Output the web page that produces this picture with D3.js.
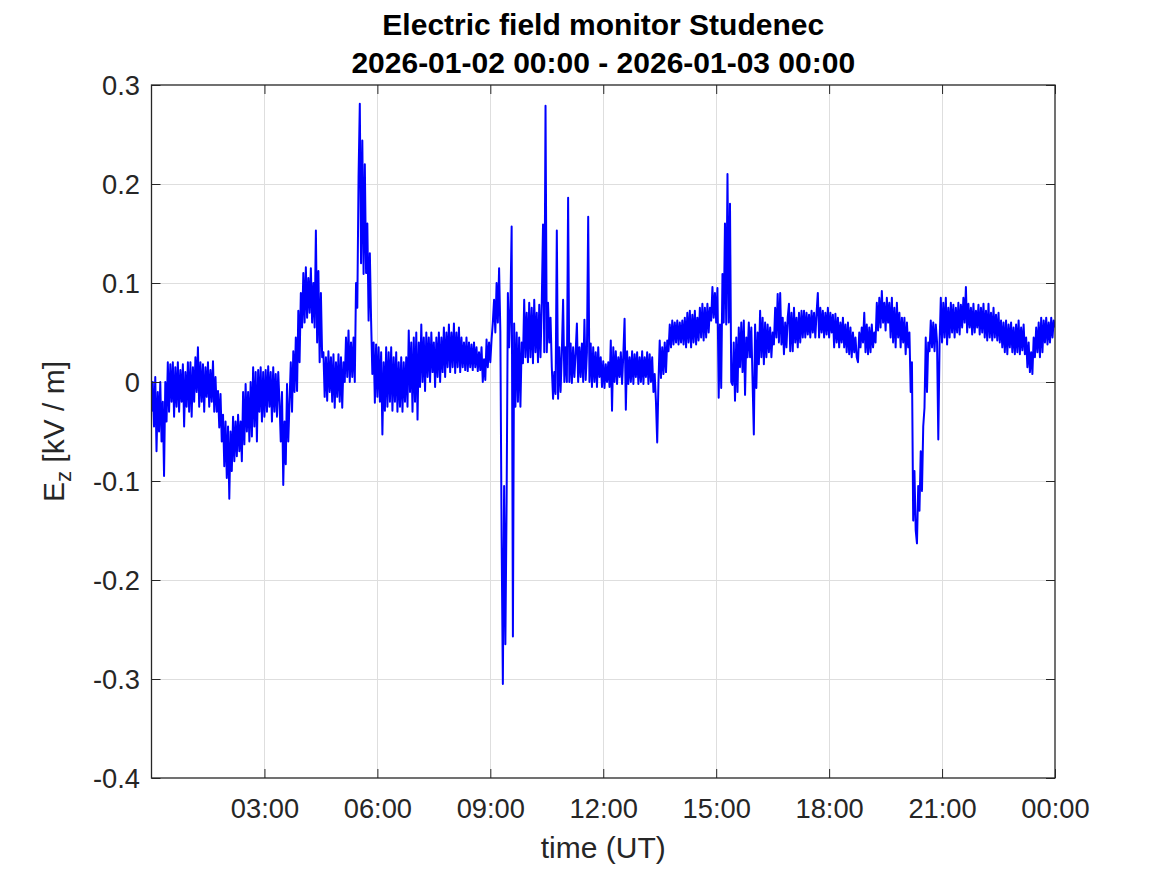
<!DOCTYPE html>
<html>
<head>
<meta charset="utf-8">
<script src="https://cdn.jsdelivr.net/npm/d3@7"></script>
<style>
  html, body { margin: 0; padding: 0; background: #fff; }
  svg { display: block; font-family: "Liberation Sans", Arial, Helvetica, sans-serif; }
</style>
</head>
<body>
<script>
// start of record and sample step (minutes)
const startTime = new Date(Date.UTC(2026, 0, 2, 0, 0));
const stepMinutes = 2;

// Ez in kV/m, 2-minute samples: one line per 20 min (10 samples), 3 lines per hour,
// plus the final sample at 24:00
const ez = [
  // 00h
  -0.03, 0.0, -0.045, 0.005, -0.07, -0.01, -0.05, 0.0, -0.06, -0.02,
  -0.095, 0.0, -0.04, 0.02, -0.03, 0.018, -0.02, 0.02, -0.035, 0.015,
  -0.025, 0.02, -0.03, 0.012, -0.02, 0.018, -0.045, 0.01, -0.025, 0.02,
  // 01h
  -0.03, 0.02, -0.035, 0.015, -0.02, 0.025, -0.01, 0.035, -0.025, 0.02,
  -0.02, 0.018, -0.03, 0.015, -0.015, 0.02, -0.025, 0.012, -0.02, 0.021,
  -0.03, 0.005, -0.03, -0.009, -0.046, -0.012, -0.06, -0.033, -0.085, -0.04,
  // 02h
  -0.097, -0.045, -0.118, -0.05, -0.09, -0.035, -0.08, -0.04, -0.075, -0.033,
  -0.07, -0.04, -0.08, -0.01, -0.063, -0.002, -0.05, -0.01, -0.06, 0.0,
  -0.055, 0.015, -0.045, 0.01, -0.06, 0.012, -0.03, 0.015, -0.04, 0.01,
  // 03h
  -0.035, 0.012, -0.03, 0.016, -0.025, 0.01, -0.04, 0.015, -0.03, 0.008,
  -0.035, 0.01, -0.02, -0.06, -0.01, -0.104, -0.04, -0.083, -0.002, -0.06,
  -0.02, 0.02, -0.03, 0.031, -0.01, 0.045, -0.009, 0.072, 0.02, 0.09,
  // 04h
  0.055, 0.11, 0.06, 0.116, 0.065, 0.105, 0.07, 0.115, 0.06, 0.1,
  0.055, 0.153, 0.04, 0.112, 0.02, 0.09, 0.025, 0.03, -0.015, 0.025,
  -0.019, 0.031, -0.01, 0.025, -0.02, 0.028, -0.026, 0.02, -0.015, 0.028,
  // 05h
  -0.02, 0.025, -0.026, 0.02, 0.0, 0.045, 0.005, 0.052, 0.0, 0.04,
  0.005, 0.045, 0.0, 0.1, 0.075, 0.207, 0.281, 0.12, 0.244, 0.109,
  0.22, 0.11, 0.16, 0.062, 0.13, 0.062, 0.008, 0.04, -0.021, 0.038,
  // 06h
  -0.015, 0.035, -0.02, 0.03, -0.053, 0.02, -0.029, 0.035, -0.025, 0.03,
  -0.02, 0.035, -0.029, 0.025, -0.02, 0.03, -0.03, 0.02, -0.025, 0.025,
  -0.03, 0.02, -0.02, 0.025, -0.025, 0.052, -0.01, 0.04, -0.03, 0.045,
  // 07h
  -0.02, 0.05, -0.038, 0.04, -0.005, 0.058, 0.0, 0.045, -0.009, 0.05,
  0.005, 0.045, 0.0, 0.05, 0.01, 0.04, -0.005, 0.045, 0.005, 0.05,
  0.0, 0.045, 0.01, 0.055, 0.005, 0.05, 0.015, 0.058, 0.01, 0.05,
  // 08h
  0.015, 0.059, 0.009, 0.05, 0.015, 0.055, 0.01, 0.045, 0.015, 0.04,
  0.012, 0.045, 0.011, 0.04, 0.015, 0.038, 0.012, 0.04, 0.015, 0.035,
  0.011, 0.03, 0.012, 0.035, 0.0, 0.023, 0.002, 0.043, 0.015, 0.04,
  // 09h
  0.02, 0.043, 0.06, 0.083, 0.05, 0.1, 0.06, 0.115, 0.051, -0.157,
  -0.305, -0.105, -0.265, -0.12, 0.09, 0.035, 0.075, 0.157, -0.257, 0.059,
  -0.025, 0.05, -0.02, 0.045, -0.025, 0.04, 0.019, 0.083, 0.025, 0.07,
  // 10h
  0.02, 0.08, 0.025, 0.075, 0.019, 0.083, 0.03, 0.07, 0.02, 0.078,
  0.025, 0.08, 0.159, 0.03, 0.279, 0.03, 0.08, 0.04, 0.065, 0.015,
  -0.017, 0.01, -0.012, 0.153, -0.017, 0.035, -0.01, 0.03, 0.083, 0.0,
  // 11h
  0.035, 0.0, 0.186, 0.0, 0.039, -0.001, 0.035, 0.005, 0.03, 0.059,
  0.0, 0.035, 0.005, 0.039, 0.0, 0.063, 0.002, 0.03, 0.167, 0.0,
  0.039, -0.005, 0.035, 0.0, 0.03, -0.005, 0.035, 0.005, 0.025, -0.005,
  // 12h
  0.021, -0.006, 0.018, 0.0, 0.02, -0.005, 0.042, -0.029, 0.035, 0.0,
  0.031, -0.002, 0.025, 0.005, 0.03, -0.002, 0.028, 0.064, -0.028, 0.031,
  -0.002, 0.025, 0.0, 0.031, -0.002, 0.028, 0.005, 0.03, -0.002, 0.025,
  // 13h
  0.0, 0.031, -0.002, 0.025, 0.005, 0.03, -0.002, 0.028, 0.0, 0.025,
  -0.01, 0.008, -0.02, -0.061, 0.0, 0.042, 0.004, 0.035, 0.008, 0.04,
  0.01, 0.042, 0.031, 0.058, 0.035, 0.062, 0.038, 0.06, 0.04, 0.062,
  // 14h
  0.038, 0.06, 0.04, 0.062, 0.038, 0.065, 0.035, 0.07, 0.04, 0.072,
  0.035, 0.068, 0.04, 0.072, 0.038, 0.065, 0.042, 0.075, 0.045, 0.079,
  0.042, 0.075, 0.045, 0.079, 0.05, 0.075, 0.062, 0.096, 0.065, 0.09,
  // 15h
  0.06, 0.095, -0.016, 0.058, -0.006, 0.109, 0.06, 0.16, 0.058, 0.21,
  0.06, 0.18, 0.0, -0.003, 0.04, -0.019, 0.045, -0.01, 0.055, 0.015,
  0.06, 0.01, 0.062, -0.013, 0.045, 0.025, 0.06, 0.025, 0.055, 0.0,
  // 16h
  -0.053, 0.058, -0.006, 0.05, 0.018, 0.072, 0.025, 0.065, 0.018, 0.06,
  0.025, 0.058, 0.03, 0.055, 0.025, 0.05, 0.038, 0.075, 0.045, 0.089,
  0.04, 0.09, 0.038, 0.065, 0.028, 0.06, 0.035, 0.065, 0.079, 0.031,
  // 17h
  0.07, 0.031, 0.075, 0.04, 0.065, 0.035, 0.07, 0.04, 0.072, 0.045,
  0.072, 0.045, 0.07, 0.048, 0.068, 0.045, 0.072, 0.05, 0.07, 0.045,
  0.07, 0.09, 0.045, 0.075, 0.05, 0.072, 0.045, 0.07, 0.048, 0.075,
  // 18h
  0.045, 0.07, 0.05, 0.068, 0.035, 0.069, 0.04, 0.065, 0.035, 0.06,
  0.04, 0.065, 0.035, 0.058, 0.03, 0.06, 0.028, 0.055, 0.025, 0.05,
  0.03, 0.045, 0.025, 0.02, 0.05, 0.035, 0.055, 0.04, 0.07, 0.03,
  // 19h
  0.058, 0.028, 0.055, 0.03, 0.058, 0.035, 0.05, 0.04, 0.08, 0.052,
  0.085, 0.055, 0.092, 0.06, 0.08, 0.052, 0.085, 0.06, 0.08, 0.045,
  0.085, 0.04, 0.075, 0.035, 0.08, 0.045, 0.07, 0.035, 0.065, 0.04,
  // 20h
  0.065, 0.028, 0.06, 0.035, 0.05, -0.01, 0.02, -0.14, -0.09, -0.15,
  -0.163, -0.105, -0.13, -0.07, -0.11, -0.045, -0.026, 0.045, -0.01, 0.04,
  0.031, 0.062, 0.035, 0.06, 0.031, 0.058, 0.04, -0.058, 0.038, 0.085,
  // 21h
  0.04, 0.08, 0.045, 0.085, 0.038, 0.075, 0.045, 0.08, 0.05, 0.078,
  0.045, 0.075, 0.05, 0.08, 0.048, 0.078, 0.055, 0.085, 0.06, 0.096,
  0.05, 0.079, 0.055, 0.075, 0.048, 0.079, 0.05, 0.072, 0.055, 0.078,
  // 22h
  0.048, 0.075, 0.05, 0.079, 0.045, 0.072, 0.042, 0.079, 0.045, 0.07,
  0.042, 0.075, 0.045, 0.068, 0.042, 0.07, 0.04, 0.062, 0.035, 0.06,
  0.03, 0.062, 0.028, 0.058, 0.035, 0.06, 0.03, 0.055, 0.028, 0.058,
  // 23h
  0.03, 0.062, 0.028, 0.055, 0.032, 0.058, 0.028, 0.045, 0.015, 0.04,
  0.01, 0.03, 0.008, 0.045, 0.025, 0.055, 0.03, 0.06, 0.025, 0.065,
  0.03, 0.062, 0.04, 0.065, 0.038, 0.06, 0.04, 0.065, 0.045, 0.062,
  // 24:00
  0.055
];

const xTickHours = [3, 6, 9, 12, 15, 18, 21, 24];
const yTicks = [-0.4, -0.3, -0.2, -0.1, 0, 0.1, 0.2, 0.3];
const yDomain = [-0.4, 0.3];

const titleLines = ["Electric field monitor Studenec", "2026-01-02 00:00 - 2026-01-03 00:00"];

const width = 1167, height = 875;
const plotLeft = 151.5, plotRight = 1055, plotTop = 85, plotBottom = 778;
const tickLen = 9;
const textColor = "#262626";

const endTime = d3.utcHour.offset(startTime, 24);
const data = ez.map((v, i) => ({t: d3.utcMinute.offset(startTime, i * stepMinutes), v}));
const xTicks = xTickHours.map(h => d3.utcHour.offset(startTime, h));

const x = d3.scaleUtc().domain([startTime, endTime]).range([plotLeft, plotRight]);
const y = d3.scaleLinear().domain(yDomain).range([plotBottom, plotTop]);

const svg = d3.select("body").append("svg")
    .attr("width", width)
    .attr("height", height)
    .attr("viewBox", [0, 0, width, height]);

svg.append("rect").attr("width", width).attr("height", height).attr("fill", "#fff");

// grid
const grid = svg.append("g").attr("stroke", "#dedede").attr("stroke-width", 1);
grid.selectAll(".gx").data(xTicks.slice(0, -1)).join("line")
    .attr("x1", d => Math.round(x(d)) + 0.5).attr("x2", d => Math.round(x(d)) + 0.5)
    .attr("y1", plotTop).attr("y2", plotBottom);
grid.selectAll(".gy").data(yTicks.slice(1, -1)).join("line")
    .attr("x1", plotLeft).attr("x2", plotRight)
    .attr("y1", d => Math.round(y(d)) + 0.5).attr("y2", d => Math.round(y(d)) + 0.5);

// data line
svg.append("clipPath").attr("id", "clip")
  .append("rect").attr("x", plotLeft).attr("y", plotTop)
    .attr("width", plotRight - plotLeft).attr("height", plotBottom - plotTop);

const line = d3.line().x(d => x(d.t)).y(d => y(d.v));

svg.append("path")
    .datum(data)
    .attr("clip-path", "url(#clip)")
    .attr("fill", "none")
    .attr("stroke", "#0000ff")
    .attr("stroke-width", 2)
    .attr("stroke-linejoin", "round")
    .attr("d", line);

// axes with inward ticks on all four sides
const fmtTime = d3.utcFormat("%H:%M");
const fmtY = d => d === 0 ? "0" : d.toFixed(1);

const xAxis = svg.append("g")
    .attr("transform", `translate(0,${plotBottom})`)
    .call(d3.axisBottom(x).tickValues(xTicks).tickFormat(fmtTime).tickSizeInner(-tickLen).tickSizeOuter(0));
xAxis.select(".domain").remove();
xAxis.selectAll(".tick line").attr("stroke", textColor);
xAxis.selectAll(".tick text")
    .attr("y", 40).attr("dy", null)
    .attr("fill", textColor).attr("font-size", 27.3);
xAxis.attr("font-family", null);

const xAxisTop = svg.append("g")
    .attr("transform", `translate(0,${plotTop})`)
    .call(d3.axisTop(x).tickValues(xTicks).tickFormat("").tickSizeInner(-tickLen).tickSizeOuter(0));
xAxisTop.select(".domain").remove();
xAxisTop.selectAll(".tick line").attr("stroke", textColor);

const yAxis = svg.append("g")
    .attr("transform", `translate(${plotLeft},0)`)
    .call(d3.axisLeft(y).tickValues(yTicks).tickFormat(fmtY).tickSizeInner(-tickLen).tickSizeOuter(0));
yAxis.select(".domain").remove();
yAxis.selectAll(".tick line").attr("stroke", textColor);
yAxis.selectAll(".tick text")
    .attr("x", -11.5).attr("dy", "0.36em")
    .attr("fill", textColor).attr("font-size", 27.3);
yAxis.attr("font-family", null);

const yAxisRight = svg.append("g")
    .attr("transform", `translate(${plotRight},0)`)
    .call(d3.axisRight(y).tickValues(yTicks).tickFormat("").tickSizeInner(-tickLen).tickSizeOuter(0));
yAxisRight.select(".domain").remove();
yAxisRight.selectAll(".tick line").attr("stroke", textColor);

// box
svg.append("rect")
    .attr("x", plotLeft).attr("y", plotTop)
    .attr("width", plotRight - plotLeft).attr("height", plotBottom - plotTop)
    .attr("fill", "none").attr("stroke", textColor).attr("stroke-width", 1.3);

// title
svg.append("g")
    .attr("font-weight", "bold")
    .attr("font-size", 30)
    .attr("fill", "#000")
    .attr("text-anchor", "middle")
  .selectAll("text").data(titleLines).join("text")
    .attr("x", (plotLeft + plotRight) / 2)
    .attr("y", (d, i) => 35 + i * 37.5)
    .text(d => d);

// x label
svg.append("text")
    .attr("x", (plotLeft + plotRight) / 2)
    .attr("y", 858)
    .attr("text-anchor", "middle")
    .attr("font-size", 30)
    .attr("fill", textColor)
    .text("time (UT)");

// y label with subscript
const ylab = svg.append("text")
    .attr("transform", `translate(63.5,${(plotTop + plotBottom) / 2}) rotate(-90)`)
    .attr("text-anchor", "middle")
    .attr("font-size", 30)
    .attr("fill", textColor);
ylab.append("tspan").text("E");
ylab.append("tspan").attr("font-size", 22).attr("dy", 7).text("z");
ylab.append("tspan").attr("dy", -7).text(" [kV / m]");
</script>
</body>
</html>
